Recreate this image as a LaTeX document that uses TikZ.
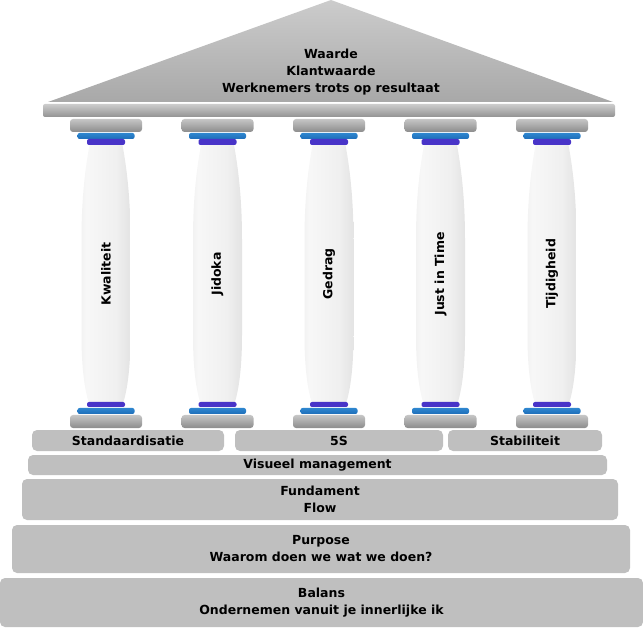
\documentclass[tikz,border=0pt]{standalone}
\usepackage{fontspec}
\setmainfont{DejaVu Sans}
\usepackage{tikz}
\usetikzlibrary{positioning}
\usepackage{xcolor}
\definecolor{ringblue}{RGB}{46,134,207}
\definecolor{ringbluedark}{RGB}{30,110,185}
\definecolor{ringpurple}{RGB}{72,52,200}
\pgfdeclarehorizontalshading{shaftshade}{100bp}{color(0bp)=(gray!30); color(30bp)=(gray!6); color(60bp)=(gray!12); color(100bp)=(gray!38)}

\begin{document}
\begin{tikzpicture}[x=1pt,y=-1pt,
          every node/.style={font=\bfseries\fontsize{12.5}{17}\selectfont,align=center},
          slab/.style={fill=gray!50,rounded corners=5pt,inner sep=0pt},
          capital/.style={top color=gray!45,bottom color=gray!90,rounded corners=3pt},
          bluering/.style={top color=ringblue,bottom color=ringbluedark,rounded corners=2pt},
          purplering/.style={fill=ringpurple,rounded corners=2pt},
        ]
        \useasboundingbox (0,0) rectangle (643,628);
        % roof
        \shade[top color=gray!40,bottom color=gray!68] (48,102) -- (331,0) -- (613,102) -- cycle;
        \shade[top color=gray!40,bottom color=gray!85,rounded corners=2pt] (43,104) rectangle (615,117);
        \node (roof) at (331,72) {Waarde\\Klantwaarde\\Werknemers trots op resultaat};
        % columns
        \foreach \i/\cx/\lab in {1/106/Kwaliteit,2/217.5/Jidoka,3/329/Gedrag,4/440.5/Just in Time,5/552/Tijdigheid}{
          \shade[shading=shaftshade] ({\cx-16.5},145) .. controls ({\cx-22},175) and ({\cx-24.5},205) .. ({\cx-24.5},240)
            -- ({\cx-24.5},335) .. controls ({\cx-24.5},370) and ({\cx-21},390) .. ({\cx-17.5},402)
            -- ({\cx+17.5},402) .. controls ({\cx+21},390) and ({\cx+24.5},370) .. ({\cx+24.5},335)
            -- ({\cx+24.5},240) .. controls ({\cx+24.5},205) and ({\cx+22},175) .. ({\cx+16.5},145) -- cycle;
          \shade[capital] ({\cx-36},119) rectangle ({\cx+36},132);
          \shade[bluering] ({\cx-28.5},133) rectangle ({\cx+28.5},139);
          \fill[purplering] ({\cx-19},139) rectangle ({\cx+19},145);
          \fill[purplering] ({\cx-19},402) rectangle ({\cx+19},407);
          \shade[bluering] ({\cx-28.5},408) rectangle ({\cx+28.5},414);
          \shade[capital] ({\cx-36},415) rectangle ({\cx+36},428);
          \node[rotate=90] (col\i) at (\cx,274) {\lab};
        }
        % foundation
        \node[slab,minimum width=192pt,minimum height=21pt] (std) at (128,440.5) {Standaardisatie};
        \node[slab,minimum width=208pt,minimum height=21pt] (fives) at (339,440.5) {5S};
        \node[slab,minimum width=154pt,minimum height=21pt] (stab) at (525,440.5) {Stabiliteit};
        \node[slab,minimum width=579pt,minimum height=20pt] (vis) at (317.5,465) {Visueel management};
        \node[slab,minimum width=596pt,minimum height=41pt] (fund) at (320,499.5) {Fundament\\Flow};
        \node[slab,minimum width=618pt,minimum height=48pt] (purp) at (321,549) {Purpose\\Waarom doen we wat we doen?};
        \node[slab,minimum width=643pt,minimum height=49pt] (bal) at (321.5,602.5) {Balans\\Ondernemen vanuit je innerlijke ik};
      \end{tikzpicture}
\end{document}
